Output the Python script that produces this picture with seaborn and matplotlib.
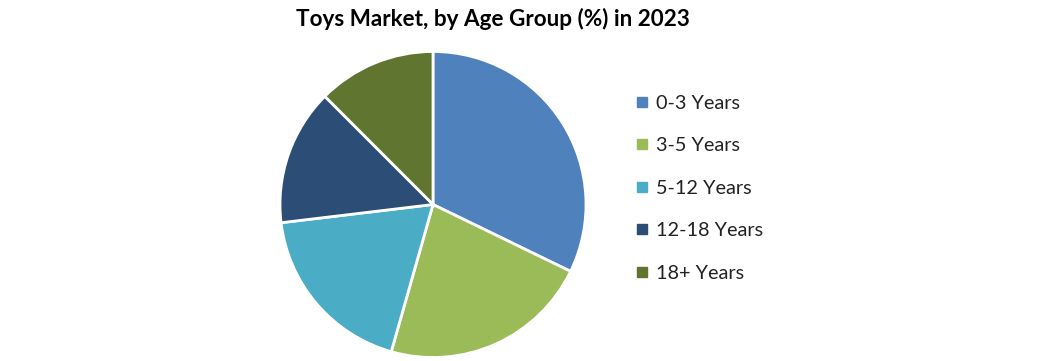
import matplotlib
matplotlib.use("Agg")
import matplotlib.pyplot as plt
import seaborn as sns
from matplotlib.lines import Line2D

# Data
age_groups = ['0-3 Years', '3-5 Years', '5-12 Years', '12-18 Years', '18+ Years']
shares = [32.2, 22.2, 18.7, 14.4, 12.5]
colors = ['#4F81BD', '#9BBB59', '#4BACC6', '#2C4D75', '#5F7530']
title = 'Toys Market, by Age Group (%) in 2023'

sns.set_theme(style='white')
plt.rcParams['font.family'] = ['Lato', 'DejaVu Sans']

fig = plt.figure(figsize=(10.46, 3.61), dpi=100)
ax = fig.add_axes([280 / 1046, 3.5 / 361, 306 / 1046, 306 / 361])

ax.pie(shares, colors=colors, startangle=90, counterclock=False,
       wedgeprops=dict(edgecolor='white', linewidth=2))
ax.set_xlim(-1, 1)
ax.set_ylim(-1, 1)
ax.set_aspect('equal')
ax.axis('off')

fig.text(493 / 1046, 1 - 19 / 361, title, ha='center', va='center',
         fontsize=16.2, fontweight='bold', color='black')

handles = [Line2D([0], [0], marker='s', linestyle='', markersize=7,
                  markerfacecolor=c, markeredgecolor=c) for c in colors]
leg = fig.legend(handles, age_groups, loc='upper left',
                 bbox_to_anchor=(625 / 1046, 1 - 85 / 361),
                 frameon=False, fontsize=14.3, handlelength=0.7,
                 handletextpad=0.35, labelspacing=1.28, borderpad=0)
for t in leg.get_texts():
    t.set_color('#222222')

fig.savefig('out.png', dpi=100, facecolor='white')
